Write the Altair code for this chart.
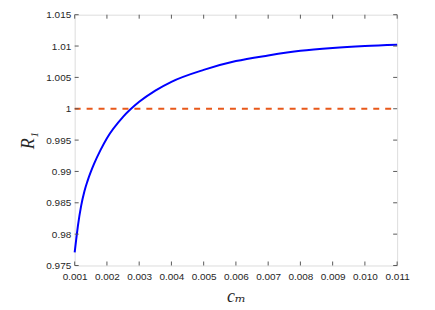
import altair as alt
import pandas as pd

# curve values
cm = [0.001, 0.00105, 0.0011, 0.0012, 0.0013, 0.0014, 0.0016, 0.0018, 0.002, 0.0025,
      0.003, 0.0035, 0.004, 0.005, 0.006, 0.007, 0.008, 0.009, 0.010, 0.011]
r1 = [0.9771, 0.9793, 0.9813, 0.9845, 0.9868, 0.9885, 0.9912, 0.9934, 0.9953, 0.9987,
      1.0011, 1.0029, 1.0043, 1.0062, 1.0076, 1.0085, 1.00925, 1.0097, 1.0100, 1.0102]

ref_x = [0.001, 0.011]
ref_y = [1.0, 1.0]

x_ticks = [0.001, 0.002, 0.003, 0.004, 0.005, 0.006, 0.007, 0.008, 0.009, 0.010, 0.011]
y_ticks = [0.975, 0.98, 0.985, 0.99, 0.995, 1.0, 1.005, 1.01, 1.015]

W, H = 324, 252
AX = "#5a5a5a"
LBL = "#262626"

xs = alt.Scale(domain=[0.001, 0.011], nice=False, zero=False)
ys = alt.Scale(domain=[0.975, 1.015], nice=False, zero=False)

common = dict(domain=False, ticks=False, grid=False,
              labelFont="Liberation Sans", labelFontSize=10, labelColor=LBL, labelFlush=False,
              titleFont="Liberation Serif, DejaVu Serif", titleFontStyle="italic",
              titleFontWeight="normal", titleFontSize=18, titleColor=LBL)
x_axis = alt.Axis(values=x_ticks, format=".3f", labelPadding=6, titlePadding=6, **common)
y_axis = alt.Axis(values=y_ticks, format=".4~f", labelPadding=4, titlePadding=8, **common)
XT = "cₘ"
YT = "R₁"

curve_df = pd.DataFrame({"cm": cm, "r1": r1})
ref_df = pd.DataFrame({"cm": ref_x, "r1": ref_y})
xt_df = pd.DataFrame({"t": x_ticks})
yt_df = pd.DataFrame({"t": y_ticks})

curve = alt.Chart(curve_df).mark_line(color="#0000FF", strokeWidth=2, interpolate="monotone").encode(
    x=alt.X("cm:Q", scale=xs, title=XT, axis=x_axis),
    y=alt.Y("r1:Q", scale=ys, title=YT, axis=y_axis),
)

ref = alt.Chart(ref_df).mark_line(color="#E8581A", strokeWidth=2, strokeDash=[6, 6]).encode(
    x=alt.X("cm:Q", scale=xs, title=XT, axis=x_axis),
    y=alt.Y("r1:Q", scale=ys, title=YT, axis=y_axis),
)

tick_style = dict(color=AX, strokeWidth=1)
bot = alt.Chart(xt_df).mark_rule(**tick_style).encode(
    x=alt.X("t:Q", scale=xs, title=XT, axis=x_axis), y=alt.value(H), y2=alt.value(H - 4))
top = alt.Chart(xt_df).mark_rule(**tick_style).encode(
    x=alt.X("t:Q", scale=xs, title=XT, axis=x_axis), y=alt.value(0), y2=alt.value(4))
left = alt.Chart(yt_df).mark_rule(**tick_style).encode(
    y=alt.Y("t:Q", scale=ys, title=YT, axis=y_axis), x=alt.value(0), x2=alt.value(4))
right = alt.Chart(yt_df).mark_rule(**tick_style).encode(
    y=alt.Y("t:Q", scale=ys, title=YT, axis=y_axis), x=alt.value(W), x2=alt.value(W - 4))

chart = alt.layer(curve, ref, bot, top, left, right).properties(
    width=W, height=H,
    autosize=alt.AutoSizeParams(type="none"),
    padding={"left": 67, "top": 6, "right": 30, "bottom": 46},
).configure_view(stroke=AX, strokeWidth=1.2).configure(background="white")

chart.save("out.html", embed_options={"renderer": "svg", "actions": False})
